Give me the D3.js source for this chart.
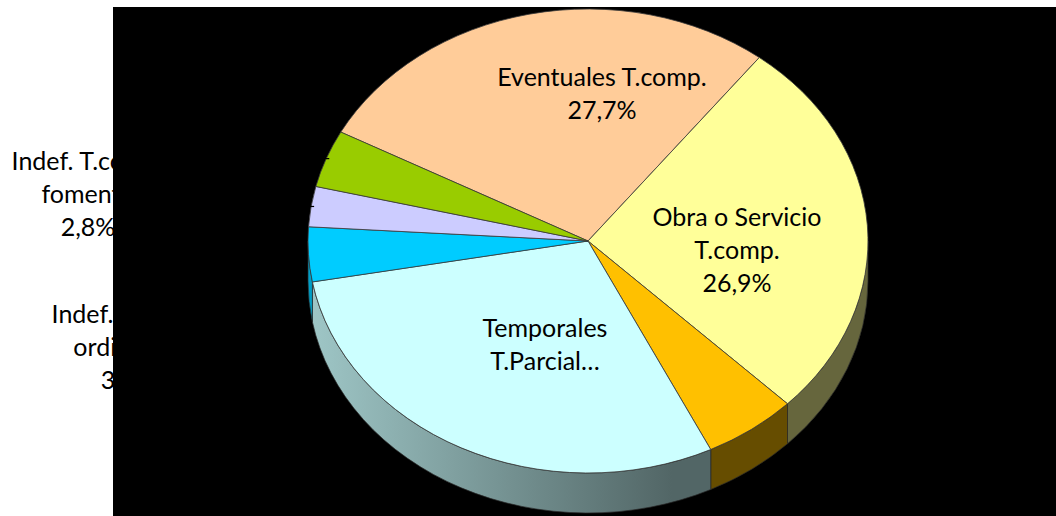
<!DOCTYPE html>
<html>
<head>
<meta charset="utf-8">
<script src="https://cdn.jsdelivr.net/npm/d3@7"></script>
<style>
  html, body { margin: 0; padding: 0; background: #ffffff; }
  svg { display: block; }
  text { font-family: Lato, "Noto Sans", sans-serif; }
</style>
</head>
<body>
<svg id="chart" width="1056" height="516"></svg>
<script>
// Contract types, share of total (%)
const categories = [
  "Eventuales T.comp.",
  "Obra o Servicio T.comp.",
  "Obra o Servicio T.Parcial",
  "Temporales T.Parcial",
  "Indef. T.comp. ordinarios",
  "Indef. T.comp. fomento",
  "Indef. T.Parcial"
];
const shares = [27.7, 26.9, 5.4, 29.4, 3.8, 2.8, 4.0];
const sliceColors = ["#FFCC99", "#FFFF99", "#FFC000", "#CCFFFF", "#00CCFF", "#CCCCFF", "#99CC00"];
// Label lines as printed on the chart (null = no label shown)
const labelLines = [
  ["Eventuales T.comp.", "27,7%"],
  ["Obra o Servicio", "T.comp.", "26,9%"],
  null,
  ["Temporales", "T.Parcial…"],
  ["Indef. T.comp.", "ordinarios", "3,8%"],
  ["Indef. T.comp.", "fomento", "2,8%"],
  null
];

const W = 1056, H = 516;
const plot = { x: 113, y: 7, w: W - 113, h: H - 7 };
const cx = 588, cy = 241, rx = 280, ry = 232, depth = 40;
const firstAngle = 208 * Math.PI / 180;   // screen angle where the first slice starts
const lineGap = 33;
const fontSize = 25;

const svg = d3.select("#chart");
const defs = svg.append("defs");

// Pie layout: d3 angles are clockwise from 12 o'clock; convert to screen angles
const pie = d3.pie().sort(null).value(d => d)
  .startAngle(firstAngle + Math.PI / 2)
  .endAngle(firstAngle + Math.PI / 2 + 2 * Math.PI);
const arcs = pie(shares).map((a, i) => ({
  i,
  a0: a.startAngle - Math.PI / 2,
  a1: a.endAngle - Math.PI / 2,
  color: sliceColors[i]
}));

const pt = (a, dy = 0) => [cx + rx * Math.cos(a), cy + ry * Math.sin(a) + dy];

// Outside labels sit to the left and are partly covered by the plot area
const outsideLabels = [
  { i: 5, x: 88, y: 161 },
  { i: 4, x: 128, y: 314 }
];
outsideLabels.forEach(l => {
  svg.append("text")
    .attr("text-anchor", "middle")
    .attr("font-size", fontSize)
    .attr("fill", "#000")
    .selectAll("tspan")
    .data(labelLines[l.i])
    .join("tspan")
    .attr("x", l.x)
    .attr("y", (d, k) => l.y + k * lineGap)
    .attr("dy", "0.35em")
    .text(d => d);
});

// Plot area
svg.append("rect")
  .attr("x", plot.x).attr("y", plot.y)
  .attr("width", plot.w).attr("height", plot.h)
  .attr("fill", "#000");

// Shading of the pie wall: brighter on the left, darker to the right
const shade = d3.scaleLinear().domain([0, 0.65, 1]).range([0.78, 0.4, 0.4]);
const scaleColor = (c, f) => { const r = d3.rgb(c); return d3.rgb(r.r * f, r.g * f, r.b * f).formatHex(); };
arcs.forEach(s => {
  const g = defs.append("linearGradient")
    .attr("id", "wall" + s.i)
    .attr("gradientUnits", "userSpaceOnUse")
    .attr("x1", cx - rx).attr("x2", cx + rx).attr("y1", 0).attr("y2", 0);
  [0, 0.2, 0.4, 0.65, 1].forEach(o => {
    g.append("stop").attr("offset", o).attr("stop-color", scaleColor(s.color, shade(o)));
  });
});

// Front-facing wall pieces (screen angles in [0, π] modulo 2π)
const walls = [];
arcs.forEach(s => {
  for (let k = 0; k < 2; k++) {
    const lo = Math.max(s.a0, k * 2 * Math.PI), hi = Math.min(s.a1, k * 2 * Math.PI + Math.PI);
    if (hi > lo) walls.push({ i: s.i, lo, hi });
  }
});
const wallPath = w => {
  const [x0, y0] = pt(w.lo), [x1, y1] = pt(w.hi);
  const large = (w.hi - w.lo) > Math.PI ? 1 : 0;
  return `M${x0},${y0}A${rx},${ry} 0 ${large} 1 ${x1},${y1}` +
         `L${x1},${y1 + depth}A${rx},${ry} 0 ${large} 0 ${x0},${y0 + depth}Z`;
};
svg.append("g").selectAll("path")
  .data(walls)
  .join("path")
  .attr("d", wallPath)
  .attr("fill", d => `url(#wall${d.i})`)
  .attr("stroke", "#2a2a2a")
  .attr("stroke-width", 0.7);

// Top faces
const topPath = s => {
  const [x0, y0] = pt(s.a0), [x1, y1] = pt(s.a1);
  const large = (s.a1 - s.a0) > Math.PI ? 1 : 0;
  return `M${cx},${cy}L${x0},${y0}A${rx},${ry} 0 ${large} 1 ${x1},${y1}Z`;
};
svg.append("g").selectAll("path")
  .data(arcs)
  .join("path")
  .attr("d", topPath)
  .attr("fill", d => d.color)
  .attr("stroke", "#3a3a3a")
  .attr("stroke-width", 0.8)
  .attr("stroke-linejoin", "round");

// Leader ticks touching the rim of the two small left slices
[6, 5].forEach(i => {
  const s = arcs[i];
  const m = (s.a0 + s.a1) / 2;
  const [x, y] = pt(m);
  svg.append("line")
    .attr("x1", x - 14).attr("y1", y).attr("x2", x + 3).attr("y2", y)
    .attr("stroke", "#000").attr("stroke-width", 1.2);
});

// Inside labels
const insideLabels = [
  { i: 0, x: 602, y: 77 },
  { i: 1, x: 737, y: 217 },
  { i: 3, x: 545, y: 328 }
];
insideLabels.forEach(l => {
  svg.append("text")
    .attr("text-anchor", "middle")
    .attr("font-size", fontSize)
    .attr("fill", "#000")
    .selectAll("tspan")
    .data(labelLines[l.i])
    .join("tspan")
    .attr("x", l.x)
    .attr("y", (d, k) => l.y + k * lineGap)
    .attr("dy", "0.35em")
    .text(d => d);
});
</script>
</body>
</html>
